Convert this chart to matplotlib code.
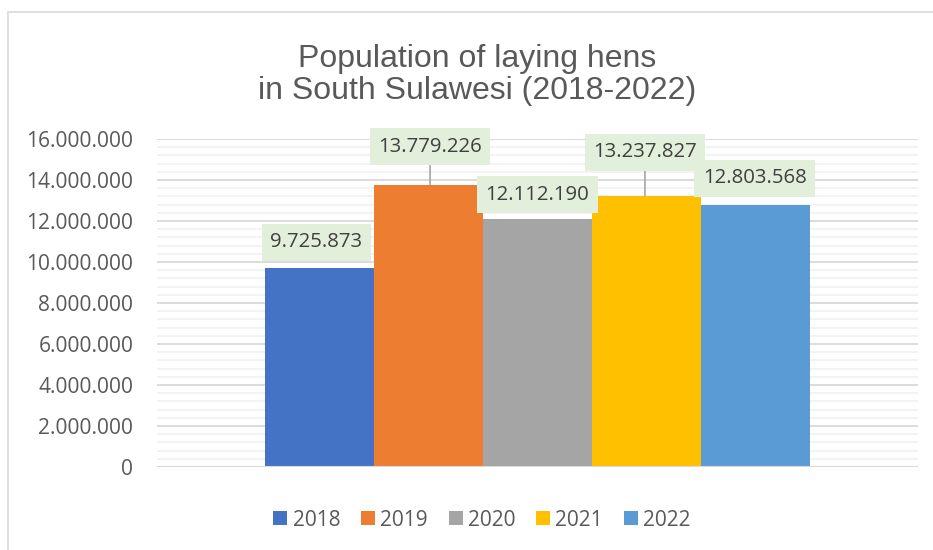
import matplotlib
matplotlib.use("Agg")
import matplotlib.pyplot as plt
from matplotlib.patches import Rectangle, Patch
import numpy as np

years = ["2018", "2019", "2020", "2021", "2022"]
values = [9725873, 13779226, 12112190, 13237827, 12803568]
colors = ["#4472C4", "#ED7D31", "#A5A5A5", "#FFC000", "#5B9BD5"]
yticks = [0, 2000000, 4000000, 6000000, 8000000, 10000000, 12000000, 14000000, 16000000]
title = "Population of laying hens\nin South Sulawesi (2018-2022)"

def fmt(v):
    return f"{v:,}".replace(",", ".")

W, H = 933, 550
fig = plt.figure(figsize=(W / 100, H / 100), dpi=100)
fig.patch.set_facecolor("white")

# outer chart border
fig.patches.append(Rectangle((8 / W, -0.1), 1.2, 1 - 12 / H + 0.1, transform=fig.transFigure,
                             fill=False, edgecolor="#D9D9D9", linewidth=1.2))

ax = fig.add_axes([157 / W, 1 - 467 / H, (918 - 157) / W, (467 - 139) / H])
ax.set_xlim(-0.5, 0.5)
ax.set_ylim(0, 16000000)

bw = 0.1432
offsets = (np.arange(len(years)) - 2) * bw
for off, v, c, y in zip(offsets, values, colors, years):
    ax.bar(off, v, width=bw, color=c, label=y, zorder=3)

# gridlines
for g in np.arange(400000, 16000001, 400000):
    if g % 2000000 != 0:
        ax.axhline(g, color="#F2F2F2", linewidth=1.3, zorder=1)
for g in yticks[1:]:
    ax.axhline(g, color="#D9D9D9", linewidth=1.3, zorder=1)
ax.axhline(0, color="#D9D9D9", linewidth=1.5, zorder=4)

for s in ax.spines.values():
    s.set_visible(False)
ax.set_xticks([])
ax.set_yticks(yticks)
ax.set_yticklabels([fmt(t) for t in yticks], fontfamily="Open Sans", fontsize=15.1, color="#595959")
ax.tick_params(axis="y", length=0, pad=17)

# data labels (offset above bar in value units, with leader lines where displaced)
lab_dx = [-0.004, 0.002, 0.0, -0.002, -0.001]
lab_dy = [1230000, 1840000, 1160000, 2120000, 1280000]
leaders = [False, True, False, True, False]
for off, v, dx, dy, ld in zip(offsets, values, lab_dx, lab_dy, leaders):
    ap = dict(arrowstyle="-", color="#A6A6A6", lw=1.2, shrinkA=0, shrinkB=0) if ld else None
    ax.annotate(fmt(v), xy=(off + dx, v), xytext=(off + dx, v + dy), textcoords="data",
                ha="center", va="center", fontfamily="Open Sans", fontsize=14.7, color="#404040",
                bbox=dict(boxstyle="square,pad=0.42", fc="#E2EFDA", ec="none"),
                arrowprops=ap, zorder=5, annotation_clip=False)

fig.text(477 / W, 1 - 75 / H, title, ha="center", va="center", fontfamily="Liberation Sans",
         fontsize=23, color="#595959", linespacing=1.12)

handles = [Patch(facecolor=c, edgecolor="none") for c in colors]
fig.legend(handles, years, loc="center", bbox_to_anchor=(482 / W, 1 - 520 / H), ncol=5,
           frameon=False, prop={"family": "Open Sans", "size": 15}, labelcolor="#595959",
           handlelength=0.67, handleheight=0.67, handletextpad=0.25, columnspacing=1.0)

fig.savefig("out.png", dpi=100, facecolor="white")
